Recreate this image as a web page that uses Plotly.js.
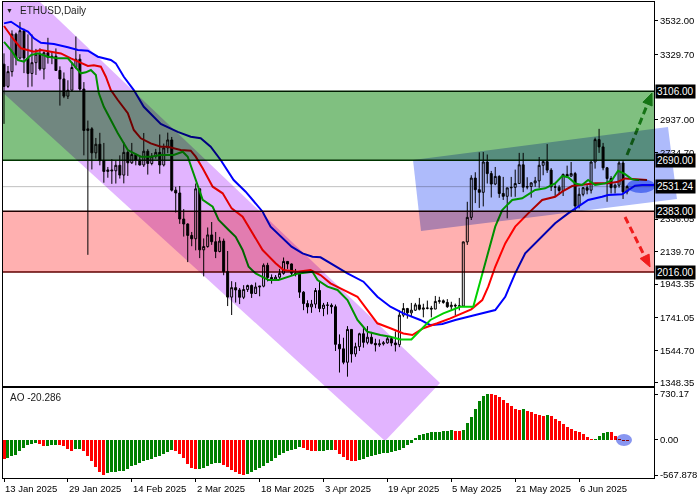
<!DOCTYPE html>
<html><head><meta charset="utf-8">
<script src="https://cdn.plot.ly/plotly-3.0.1.min.js"></script>
<style>
html,body{margin:0;padding:0;background:#fff;}
#chart{width:700px;height:500px;}
.shapelayer path{mix-blend-mode:multiply;}
</style></head>
<body><div id="chart"></div>
<script>
// ---- Price candles (ETHUSD daily, 13 Jan 2025 ... 18 Jun 2025), index = day number
const open = [3270,3136,3225,3451,3307,3472,3307,3214,3279,3330,3241,3339,3310,3318,3232,3181,3077,3113,3250,3300,3120,2870,2880,2735,2787,2688,2623,2632,2627,2660,2601,2738,2675,2725,2692,2662,2745,2671,2715,2738,2662,2765,2813,2510,2493,2336,2306,2237,2217,2518,2150,2170,2240,2199,2140,2203,2019,1865,1922,1908,1864,1911,1935,1887,1926,1931,2057,1983,1966,1985,2008,2080,2065,2009,2003,1895,1826,1806,1823,1905,1796,1817,1816,1807,1580,1553,1472,1670,1522,1566,1644,1592,1623,1586,1577,1583,1589,1614,1588,1578,1756,1796,1770,1786,1818,1792,1799,1798,1793,1839,1843,1833,1807,1816,1812,1811,2198,2346,2583,2513,2497,2680,2610,2547,2593,2490,2473,2524,2527,2550,2663,2528,2532,2554,2566,2660,2682,2631,2530,2528,2508,2605,2595,2610,2415,2485,2525,2510,2680,2815,2771,2645,2580,2525,2540,2674,2500];
const high = [3335,3259,3474,3460,3524,3484,3450,3449,3362,3366,3347,3429,3344,3365,3257,3220,3173,3283,3437,3330,3162,2930,2890,2825,2856,2795,2650,2697,2690,2720,2798,2747,2795,2730,2719,2855,2757,2734,2759,2846,2791,2857,2831,2530,2535,2396,2310,2258,2550,2523,2219,2285,2318,2258,2228,2218,2143,1961,1955,1920,1937,1940,1941,1953,1932,2068,2072,2002,1998,2035,2104,2083,2068,2035,2013,1901,1846,1848,1920,1956,1830,1835,1827,1820,1640,1620,1690,1672,1590,1650,1690,1690,1655,1614,1610,1600,1625,1618,1658,1784,1829,1800,1830,1830,1860,1825,1844,1812,1872,1867,1851,1853,1837,1826,1860,2200,2440,2600,2618,2738,2740,2725,2626,2650,2600,2590,2525,2590,2634,2735,2735,2588,2558,2590,2710,2690,2788,2643,2550,2540,2610,2658,2680,2620,2525,2529,2540,2685,2827,2880,2795,2650,2595,2550,2685,2690,2540];
const low  = [2910,3127,3195,3263,3300,3216,3131,3135,3205,3231,3178,3273,3270,3230,3020,3065,3060,3110,3240,3110,2720,2120,2635,2700,2660,2555,2585,2548,2550,2580,2551,2596,2668,2660,2659,2650,2604,2660,2700,2609,2653,2733,2502,2375,2307,2230,2076,2172,2147,2100,1990,2163,2180,2100,2135,1997,1811,1757,1832,1823,1853,1896,1860,1884,1870,1924,1960,1946,1962,1971,2000,2035,1995,1990,1860,1786,1767,1770,1798,1774,1750,1760,1765,1540,1410,1460,1385,1470,1505,1540,1560,1580,1580,1537,1565,1573,1584,1569,1537,1563,1744,1735,1745,1781,1785,1743,1791,1743,1792,1825,1825,1800,1785,1754,1785,1810,2180,2330,2432,2403,2412,2550,2466,2540,2464,2451,2340,2470,2470,2550,2498,2515,2465,2530,2524,2600,2614,2505,2474,2484,2475,2585,2590,2382,2400,2473,2485,2490,2640,2735,2630,2440,2490,2490,2525,2457,2485];
const close = [3136,3225,3451,3307,3472,3307,3214,3279,3330,3241,3339,3310,3318,3232,3181,3077,3113,3250,3300,3120,2870,2880,2735,2787,2688,2623,2632,2627,2660,2601,2738,2675,2725,2692,2662,2745,2671,2715,2738,2662,2765,2813,2510,2493,2336,2306,2237,2217,2518,2150,2170,2240,2199,2140,2203,2019,1865,1922,1908,1864,1911,1935,1887,1926,1931,2057,1983,1966,1985,2008,2080,2065,2009,2003,1895,1826,1806,1823,1905,1796,1817,1816,1807,1580,1553,1472,1670,1522,1566,1644,1592,1623,1586,1577,1583,1589,1614,1588,1578,1756,1796,1770,1786,1818,1792,1799,1798,1793,1839,1843,1833,1807,1816,1812,1811,2198,2346,2583,2513,2497,2680,2610,2547,2593,2490,2473,2524,2527,2550,2663,2528,2532,2554,2566,2660,2682,2631,2530,2528,2508,2605,2595,2610,2415,2485,2525,2510,2680,2815,2771,2645,2580,2525,2540,2674,2500,2531.24];

// ---- Alligator lines: [day, price]
const jawDays   = [0,1.75,3,4.25,6,7.5,9.25,12.5,16,18.5,21,23.5,26.75,28,30,32.5,35,37.5,39.25,43.5,46.75,49.25,51.75,54.25,57.5,60.5,63,64.75,66.75,69.75,72,74.75,77.25,79.25,81.75,86,90,93.5,96.75,100,104.25,106.75,109.75,113,118,123,125.5,128,130.5,133.75,138,141.25,143.75,146.25,149.75,151.25,154.75,156.25,158,159.75,164];
const jawPrice  = [3516,3526,3506,3486,3466,3426,3399,3391,3372,3355,3351,3315,3295,3275,3194,3114,3013,2953,2909,2862,2832,2823,2772,2692,2571,2501,2431,2380,2290,2219,2169,2129,2109,2105,2069,2008,1958,1867,1807,1767,1727,1696,1703,1727,1757,1787,1867,2008,2129,2209,2310,2370,2410,2451,2470,2481,2485,2511,2537,2541,2541];
const teethDays = [0,2.5,4.25,6,7.5,9.25,11.75,14.25,16.75,19.25,21,22.5,24.25,25.5,26.75,28.5,31,32.5,34.25,36.75,39.25,41,44.25,46.75,48,49.75,52.25,54.75,57,59.75,62.25,64.75,68,70,73.5,76.75,79.25,81.75,85,88.5,91,93.5,96.75,100,102.25,105,108.5,111.75,117,119.75,121.25,123,125.5,128,131.25,134.75,138,139.75,142.25,144.75,148,151.25,153.75,155.5,158.75,161];
const teethPrice= [3500,3416,3366,3355,3345,3355,3345,3335,3305,3275,3259,3263,3255,3194,3114,3054,2974,2873,2823,2792,2772,2772,2752,2748,2712,2642,2531,2491,2400,2350,2250,2149,2069,2028,2018,2028,1998,1948,1908,1867,1787,1707,1677,1646,1636,1677,1707,1737,1791,1847,1928,2048,2189,2290,2370,2451,2470,2501,2535,2541,2551,2551,2561,2581,2575,2571];
const lipsDays  = [0,1.75,3.5,5,6.75,8.5,11,13.5,16,17.5,19.25,20.5,21.75,23,23.75,25,26.75,28.5,31,34.25,36.75,39.25,42.5,44.75,46,47.5,49.75,52.25,53.75,56.25,58,59.75,61.25,63,66.25,68.75,71.25,73.75,77.25,78.5,81,83.5,86,88.5,91,94.25,96.75,99.25,102,104.25,106.75,110,114.25,117.5,119.75,121.25,123,124.75,127.25,129.75,133,135.5,138,139.75,141.25,143,144.75,146.25,148,150.5,152.25,153.75,155.5,157.25,159];
const lipsPrice = [3405,3355,3295,3285,3325,3335,3315,3305,3305,3265,3215,3221,3235,3205,3094,3013,2933,2853,2752,2712,2712,2722,2722,2742,2712,2612,2451,2410,2330,2270,2229,2149,2048,2008,1968,1968,1988,2008,2018,1968,1928,1908,1847,1727,1656,1636,1626,1610,1610,1666,1727,1767,1807,1807,2008,2149,2290,2390,2451,2461,2511,2521,2551,2595,2588,2551,2541,2571,2541,2551,2571,2627,2607,2575,2571];

// ---- Awesome Oscillator values, one per day
const ao = [-305,-294,-267,-240,-187,-134,-91,-70,-53,-70,-107,-95,-90,-80,-91,-107,-144,-176,-150,-144,-187,-257,-337,-439,-524,-562,-535,-522,-512,-505,-495,-471,-428,-401,-374,-348,-321,-305,-283,-257,-225,-198,-171,-187,-225,-294,-385,-450,-470,-465,-460,-428,-390,-378,-372,-401,-439,-481,-519,-546,-562,-551,-514,-481,-460,-417,-374,-342,-294,-251,-214,-182,-160,-144,-123,-134,-160,-176,-187,-185,-180,-172,-160,-165,-225,-283,-321,-347,-350,-321,-305,-283,-267,-251,-230,-216,-212,-198,-187,-160,-134,-91,-53,27,80,85,107,115,118,123,134,140,146,140,134,160,267,364,492,615,706,738,735,722,685,642,588,535,497,481,484,455,444,417,391,374,391,374,337,305,257,198,176,144,123,91,43,12,14,64,110,120,116,64,11,-16,-20.286];

// ---- Axis labels and levels
const tickDays = [0,16,32,48,64,80,96,112,128,144];
const tickText = ['13 Jan 2025','29 Jan 2025','14 Feb 2025','2 Mar 2025','18 Mar 2025','3 Apr 2025','19 Apr 2025','5 May 2025','21 May 2025','6 Jun 2025'];
const priceTicks = [3532.00,3329.70,2937.00,2734.70,2336.05,2139.70,1943.35,1741.05,1544.70,1348.35];
const priceTickText = ['3532.00','3329.70','2937.00','2734.70','2336.05','2139.70','1943.35','1741.05','1544.70','1348.35'];
const aoTicks = [730.17,0,-567.878];
const aoTickText = ['730.17','0.00','-567.878'];
const levels = [3106.00,2690.00,2531.24,2383.00,2016.00];
const levelText = ['3106.00','2690.00','2531.24','2383.00','2016.00'];
const lastPrice = 2531.24;
const aoLast = '-20.286';

const days = close.map((_, i) => i);
const aoColors = ao.map((v, i) => (i > 0 && v > ao[i-1]) ? '#008000' : '#FF0000');

const FONT = 'Liberation Sans, Arial, sans-serif';
const PRICE_DOMAIN = [0.193, 1];
const PRICE_RANGE = [1328, 3645];
// map a price onto the figure's paper height through the price axis scale
const py = p => PRICE_DOMAIN[0] + (p - PRICE_RANGE[0]) / (PRICE_RANGE[1] - PRICE_RANGE[0]) * (PRICE_DOMAIN[1] - PRICE_DOMAIN[0]);

const traces = [
  {type:'candlestick', x:days, open:open, high:high, low:low, close:close, xaxis:'x2', yaxis:'y',
   increasing:{line:{color:'#000000',width:1}, fillcolor:'#FFFFFF'},
   decreasing:{line:{color:'#000000',width:1}, fillcolor:'#000000'},
   whiskerwidth:0, hoverinfo:'skip', showlegend:false},
  {type:'scatter', mode:'lines', x:jawDays, y:jawPrice, xaxis:'x2', yaxis:'y', line:{color:'#0000FF', width:2}, hoverinfo:'skip', showlegend:false},
  {type:'scatter', mode:'lines', x:teethDays, y:teethPrice, xaxis:'x2', yaxis:'y', line:{color:'#FF0000', width:2}, hoverinfo:'skip', showlegend:false},
  {type:'scatter', mode:'lines', x:lipsDays, y:lipsPrice, xaxis:'x2', yaxis:'y', line:{color:'#00D000', width:2}, hoverinfo:'skip', showlegend:false},
  {type:'bar', x:days, y:ao, xaxis:'x', yaxis:'y2', width:0.75, marker:{color:aoColors, line:{width:0}}, hoverinfo:'skip', showlegend:false}
];

const P = 'paper';
const shapes = [
  // green resistance zone
  {type:'rect', xref:P, yref:P, x0:0, x1:1, y0:py(levels[1]), y1:py(levels[0]), fillcolor:'#80C080', line:{width:0}, layer:'above'},
  // red support zone
  {type:'rect', xref:P, yref:P, x0:0, x1:1, y0:py(levels[4]), y1:py(levels[3]), fillcolor:'#FFB0B0', line:{width:0}, layer:'above'},
  // descending channel
  {type:'path', xref:P, yref:P, path:'M0.0568,1 L0.6713,0.1996 L0.5868,0.0777 L0,0.8094 L0,1 Z', fillcolor:'#E2B4FF', line:{width:0}, layer:'above'},
  // sideways channel
  {type:'path', xref:P, yref:P, path:'M0.6298,0.6681 L1.0215,0.7374 L1.0353,0.5861 L0.6421,0.5189 Z', fillcolor:'#AEBBFB', line:{width:0}, layer:'above'},
  // zone borders
  {type:'line', xref:P, yref:P, x0:0, x1:1, y0:py(levels[0]), y1:py(levels[0]), line:{color:'#002000', width:1.5}, layer:'above'},
  {type:'line', xref:P, yref:P, x0:0, x1:1, y0:py(levels[1]), y1:py(levels[1]), line:{color:'#003800', width:1.5}, layer:'above'},
  {type:'line', xref:P, yref:P, x0:0, x1:1, y0:py(levels[3]), y1:py(levels[3]), line:{color:'#200000', width:1.5}, layer:'above'},
  {type:'line', xref:P, yref:P, x0:0, x1:1, y0:py(levels[4]), y1:py(levels[4]), line:{color:'#600000', width:1.5}, layer:'above'},
  // last price line
  {type:'line', xref:P, yref:P, x0:0, x1:1, y0:py(lastPrice), y1:py(lastPrice), line:{color:'#C0C0C0', width:1}, layer:'above'},
  // arrows
  {type:'line', xref:P, yref:P, x0:0.9585, y0:0.6786, x1:0.9900, y1:0.7855, line:{color:'#2A9A2A', width:3, dash:'7px,4px'}, layer:'above'},
  {type:'path', xref:P, yref:P, path:'M0.9969,0.8088 L0.9971,0.7815 L0.9830,0.7895 Z', fillcolor:'#2A9A2A', line:{color:'#2A9A2A', width:1}, layer:'above'},
  {type:'line', xref:P, yref:P, x0:0.9555, y0:0.5483, x1:0.9856, y1:0.4658, line:{color:'#F02828', width:3, dash:'7px,4px'}, layer:'above'},
  {type:'path', xref:P, yref:P, path:'M0.9939,0.4433 L0.9925,0.4704 L0.9786,0.4611 Z', fillcolor:'#F02828', line:{color:'#F02828', width:1}, layer:'above'},
  // highlight ellipses
  {type:'circle', xref:P, yref:P, x0:0.9585, x1:1.0015, y0:0.5987, y1:0.6282, fillcolor:'#7C98F4', line:{width:0}, layer:'above'},
  {type:'circle', xref:P, yref:P, x0:0.9416, x1:0.9662, y0:0.0672, y1:0.0924, fillcolor:'#8896F0', line:{width:0}, layer:'above'}
];

const annotations = [
  {xref:P, yref:P, x:0.002, y:0.983, xanchor:'left', yanchor:'middle', text:'▼', showarrow:false, font:{family:FONT, size:7, color:'#202020'}},
  {xref:P, yref:P, x:0.023, y:0.983, xanchor:'left', yanchor:'middle', text:'ETHUSD,Daily', showarrow:false, font:{family:FONT, size:10, color:'#202020'}},
  {xref:P, yref:P, x:0.008, y:0.170, xanchor:'left', yanchor:'middle', text:'AO ' + aoLast, showarrow:false, font:{family:FONT, size:10, color:'#202020'}}
];
levels.forEach((v, i) => annotations.push({
  xref:P, yref:'y', x:1, y:v, xanchor:'left', yanchor:'middle', xshift:1,
  text:levelText[i], showarrow:false, bgcolor:'#000000', borderpad:1,
  font:{family:FONT, size:10, color:'#FFFFFF'}
}));
tickDays.forEach((d, i) => annotations.push({
  xref:'x', yref:P, x:d, y:0, xanchor:'left', yanchor:'top', yshift:-3, xshift:-1,
  text:tickText[i], showarrow:false, font:{family:FONT, size:9.5, color:'#000000'}
}));

const axisBase = {showline:true, mirror:true, linecolor:'#000000', linewidth:1, showgrid:false, zeroline:false, fixedrange:true};

const layout = {
  width:700, height:500,
  margin:{l:3, r:46, t:2, b:22, pad:0},
  paper_bgcolor:'#FFFFFF', plot_bgcolor:'#FFFFFF',
  showlegend:false,
  bargap:0,
  font:{family:FONT, size:9.5, color:'#000000'},
  xaxis: Object.assign({}, axisBase, {anchor:'y2', range:[-0.25,162.75], tickvals:tickDays, ticktext:tickText, showticklabels:false, ticks:'outside', ticklen:3, tickcolor:'#000000', rangeslider:{visible:false}}),
  xaxis2: Object.assign({}, axisBase, {anchor:'y', matches:'x', showticklabels:false, ticks:'', rangeslider:{visible:false}}),
  yaxis: Object.assign({}, axisBase, {anchor:'x2', side:'right', domain:PRICE_DOMAIN, range:PRICE_RANGE, tickvals:priceTicks, ticktext:priceTickText, ticks:'outside', ticklen:3, tickcolor:'#000000', tickfont:{family:FONT, size:9.5, color:'#000000'}}),
  yaxis2: Object.assign({}, axisBase, {anchor:'x', side:'right', domain:[0,0.189], range:[-615,826], tickvals:aoTicks, ticktext:aoTickText, ticks:'outside', ticklen:3, tickcolor:'#000000', tickfont:{family:FONT, size:9.5, color:'#000000'}}),
  shapes:shapes,
  annotations:annotations
};

Plotly.newPlot('chart', traces, layout, {staticPlot:true, displayModeBar:false});
</script>
</body></html>
